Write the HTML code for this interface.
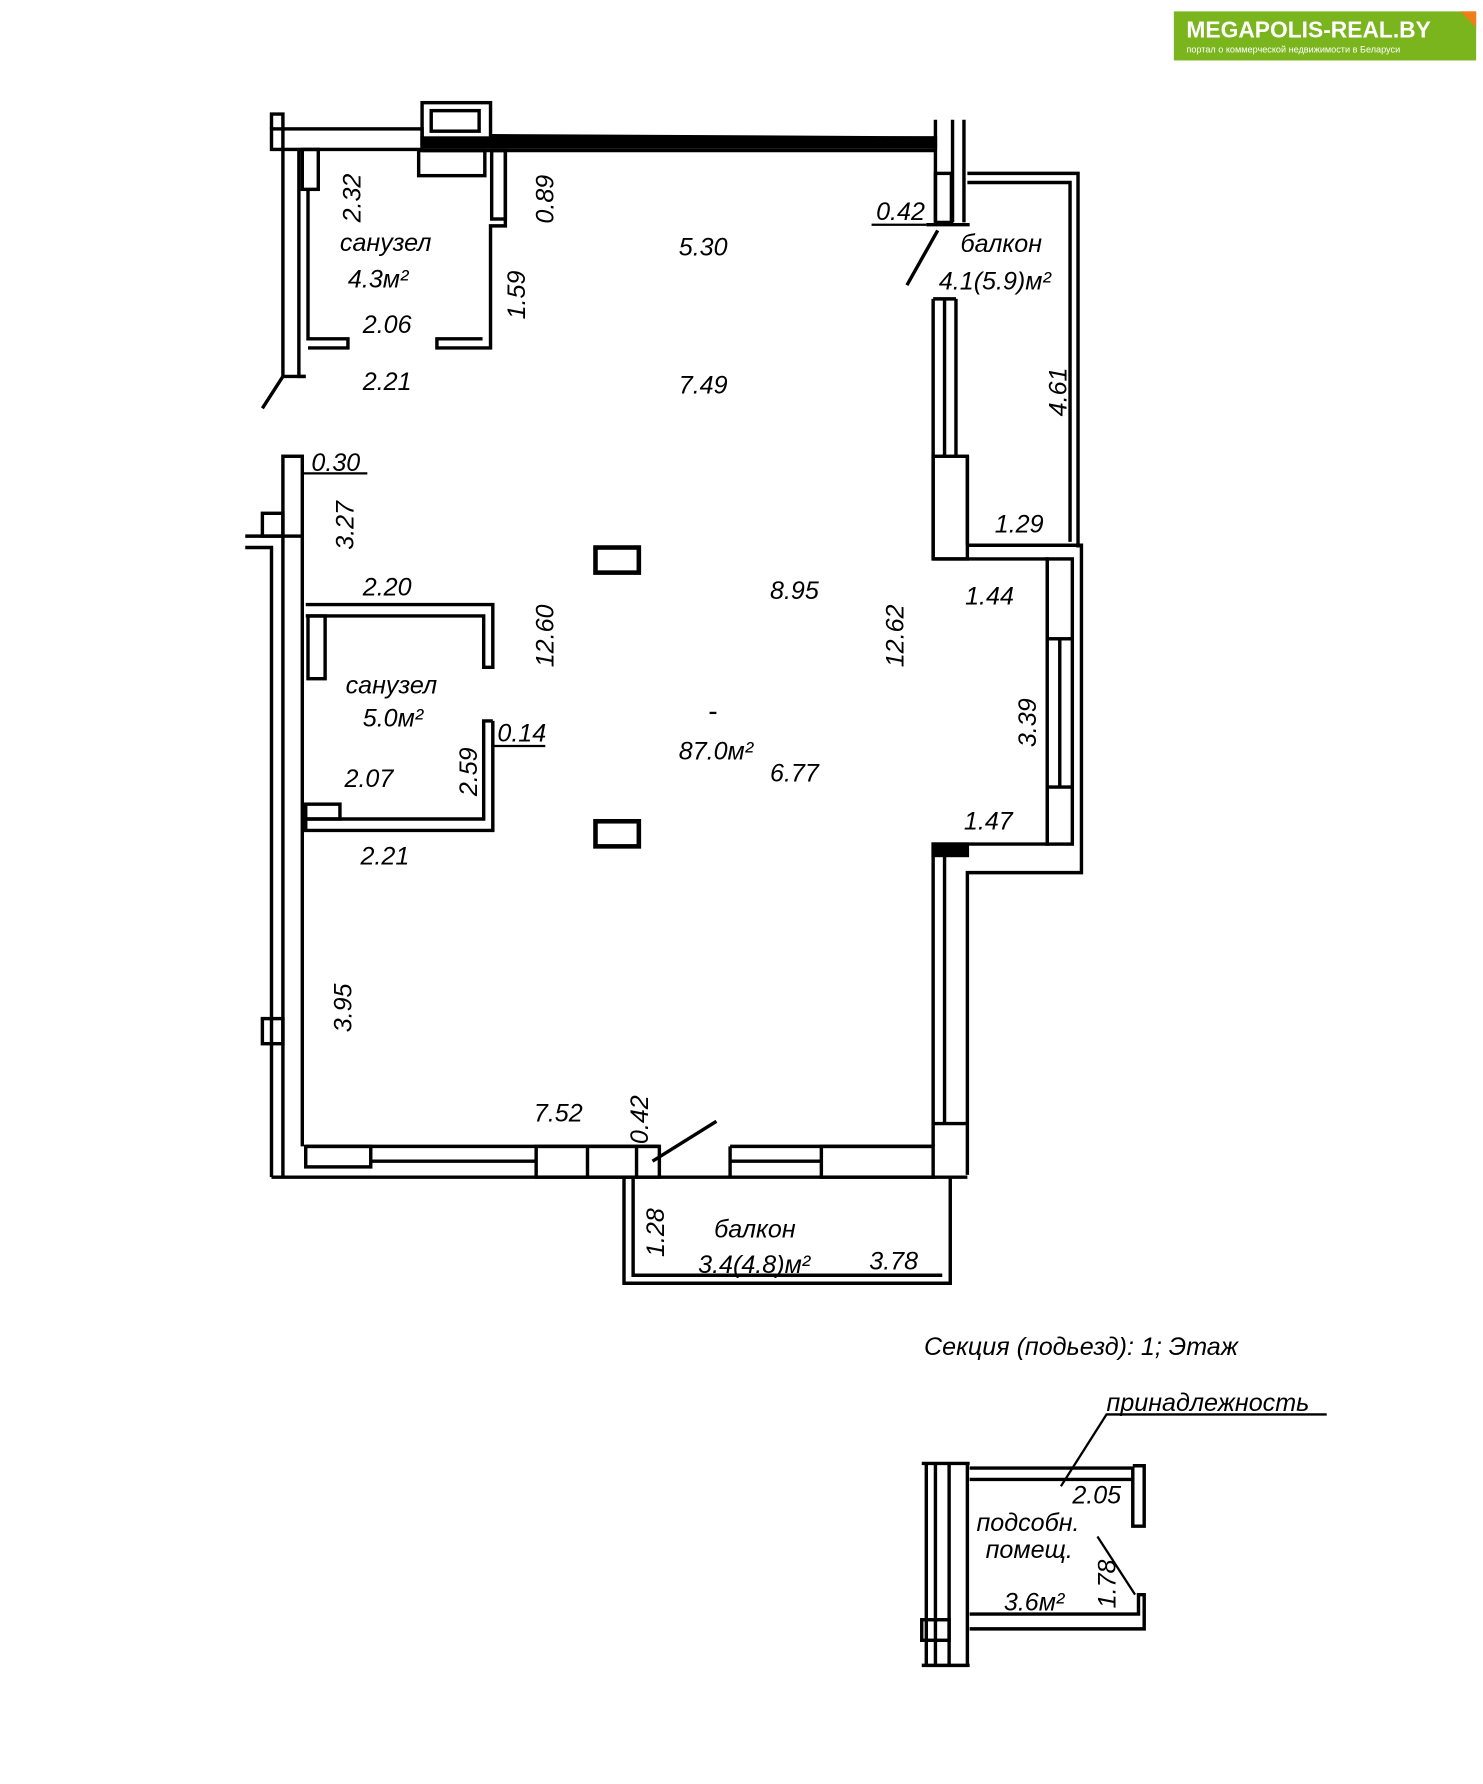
<!DOCTYPE html>
<html><head><meta charset="utf-8"><style>
html,body{margin:0;padding:0;background:#fff;}
svg{display:block;}
text{font-family:"Liberation Sans","DejaVu Sans",sans-serif;font-style:italic;fill:#000;}
</style></head><body>
<svg width="1483" height="1784" viewBox="0 0 1300 1564" preserveAspectRatio="none" xmlns="http://www.w3.org/2000/svg">
<rect x="0" y="0" width="1300" height="1564" fill="#fff"/>
<!-- logo -->
<rect x="1029" y="10" width="265" height="43" fill="#7ab51d"/>
<polygon points="1280,10 1294,10 1294,24" fill="#f07c1a"/>
<text x="1040" y="33" font-size="20" font-weight="bold" style="font-style:normal;fill:#fff">MEGAPOLIS-REAL.BY</text>
<text x="1040" y="46" font-size="8" style="font-style:normal;fill:#fff">портал о коммерческой недвижимости в Беларуси</text>

<g fill="none" stroke="#000" stroke-width="3">
<!-- top wall -->
<rect x="238" y="113" width="132" height="18"/>
<rect x="370" y="121" width="450" height="8" fill="#000"/>
<line x1="430" y1="119" x2="820" y2="121"/>
<line x1="370" y1="132" x2="820" y2="132"/>
<rect x="370" y="90" width="60" height="36"/>
<rect x="378" y="97" width="42" height="18"/>
<rect x="367" y="132" width="58" height="22"/>
<!-- right top pillar -->
<line x1="820" y1="105" x2="820" y2="195"/>
<line x1="835" y1="105" x2="835" y2="195"/>
<line x1="845" y1="105" x2="845" y2="195"/>
<rect x="820" y="152" width="14" height="43"/>
<line x1="812" y1="197" x2="850" y2="197"/>
<line x1="822" y1="202" x2="795" y2="250"/>
<!-- balcony top right -->
<polyline points="848,152 945,152 945,480"/>
<polyline points="848,160 938,160 938,475"/>
<!-- right wall windows -->
<line x1="818" y1="262" x2="818" y2="490"/>
<line x1="828" y1="262" x2="828" y2="400"/>
<line x1="838" y1="262" x2="838" y2="400"/>
<line x1="818" y1="262" x2="838" y2="262"/>
<rect x="818" y="400" width="30" height="90"/>
<line x1="848" y1="400" x2="848" y2="478"/>
<!-- step out -->
<polyline points="848,478 948,478 948,765 848,765 848,1030"/>
<polyline points="818,490 918,490 918,740 818,740 818,1005"/>
<rect x="918" y="490" width="22" height="70"/>
<rect x="918" y="690" width="22" height="50"/>
<line x1="929" y1="560" x2="929" y2="690"/>
<line x1="940" y1="560" x2="940" y2="690"/>
<rect x="818" y="740" width="30" height="10" fill="#000"/>
<line x1="828" y1="750" x2="828" y2="985"/>
<line x1="818" y1="985" x2="848" y2="985"/>
<!-- bottom wall -->
<line x1="238" y1="1032" x2="848" y2="1032"/>
<line x1="268" y1="1005" x2="578" y2="1005"/>
<line x1="640" y1="1005" x2="818" y2="1005"/>
<rect x="268" y="1005" width="57" height="18"/>
<rect x="470" y="1005" width="108" height="27"/>
<line x1="515" y1="1005" x2="515" y2="1032"/>
<line x1="558" y1="1005" x2="558" y2="1032"/>
<line x1="325" y1="1018" x2="470" y2="1018"/>
<line x1="640" y1="1018" x2="720" y2="1018"/>
<line x1="640" y1="1005" x2="640" y2="1032"/>
<rect x="720" y="1005" width="98" height="27"/>
<line x1="572" y1="1018" x2="628" y2="983"/>
<!-- bottom balcony -->
<polyline points="547,1032 547,1125 833,1125 833,1032"/>
<polyline points="555,1032 555,1118 826,1118"/>
<!-- left wall -->
<polyline points="238,113 238,100 248,100 248,330"/>
<polyline points="262,131 262,330 268,330"/>
<line x1="248" y1="330" x2="230" y2="358"/>
<line x1="248" y1="330" x2="268" y2="330"/>
<rect x="248" y="400" width="17" height="70"/>
<polyline points="215,470 248,470 248,1032"/>
<polyline points="215,480 238,480 238,1032"/>
<rect x="230" y="450" width="18" height="20"/>
<rect x="230" y="893" width="18" height="22"/>
<line x1="265" y1="470" x2="265" y2="1005"/>
<!-- sanuzel 1 -->
<rect x="265" y="131" width="14" height="35"/>
<polyline points="270,166 270,297 305,297 305,305 270,305"/>
<rect x="431" y="132" width="12" height="60"/>
<polyline points="443,132 443,198 430,198 430,305 383,305 383,297 423,297"/>
<!-- sanuzel 2 -->
<polyline points="268,530 432,530 432,585 424,585 424,540 268,540"/>
<rect x="270" y="540" width="15" height="55"/>
<polyline points="432,632 432,728 268,728 268,718 424,718 424,632 432,632"/>
<rect x="268" y="705" width="30" height="13"/>
<!-- columns -->
<rect x="522" y="480" width="38" height="22" stroke-width="4"/>
<rect x="522" y="720" width="38" height="22" stroke-width="4"/>
<!-- leader lines -->
<line x1="764" y1="197" x2="812" y2="197" stroke-width="2"/>
<line x1="265" y1="415" x2="322" y2="415" stroke-width="2"/>
<line x1="432" y1="654" x2="478" y2="654" stroke-width="2"/>
<line x1="622" y1="625" x2="628" y2="625" stroke-width="2"/>
<!-- small plan -->
<line x1="812" y1="1283" x2="812" y2="1460"/>
<line x1="820" y1="1283" x2="820" y2="1460"/>
<line x1="832" y1="1283" x2="832" y2="1460"/>
<line x1="848" y1="1283" x2="848" y2="1460"/>
<line x1="808" y1="1283" x2="850" y2="1283"/>
<line x1="808" y1="1460" x2="850" y2="1460"/>
<rect x="808" y="1420" width="24" height="18"/>
<polyline points="850,1287 993,1287 993,1338 1003,1338 1003,1285 993,1285"/>
<line x1="850" y1="1297" x2="993" y2="1297"/>
<polyline points="850,1415 998,1415 998,1398 1003,1398 1003,1428 850,1428"/>
<line x1="962" y1="1347" x2="995" y2="1398" stroke-width="2"/>
<polyline points="930,1303 970,1240 1163,1240" stroke-width="2"/>
</g>

<g font-size="22">
<text x="298" y="220">санузел</text>
<text x="305" y="252">4.3м²</text>
<text x="318" y="292">2.06</text>
<text x="318" y="342">2.21</text>
<text x="595" y="224">5.30</text>
<text x="595" y="345">7.49</text>
<text x="768" y="193">0.42</text>
<text x="842" y="221">балкон</text>
<text x="823" y="254">4.1(5.9)м²</text>
<text x="872" y="467">1.29</text>
<text x="846" y="530">1.44</text>
<text x="675" y="525">8.95</text>
<text x="273" y="413">0.30</text>
<text x="318" y="522">2.20</text>
<text x="303" y="608">санузел</text>
<text x="318" y="637">5.0м²</text>
<text x="436" y="650">0.14</text>
<text x="302" y="690">2.07</text>
<text x="316" y="758">2.21</text>
<text x="595" y="666">87.0м²</text>
<text x="675" y="685">6.77</text>
<text x="845" y="727">1.47</text>
<text x="468" y="983">7.52</text>
<text x="626" y="1085">балкон</text>
<text x="612" y="1116">3.4(4.8)м²</text>
<text x="762" y="1113">3.78</text>
<text x="810" y="1188">Секция (подьезд):  1;  Этаж</text>
<text x="970" y="1237">принадлежность</text>
<text x="940" y="1318">2.05</text>
<text x="856" y="1342">подсобн.</text>
<text x="864" y="1366">помещ.</text>
<text x="880" y="1412">3.6м²</text>
</g>
<g font-size="22">
<text transform="translate(316,195) rotate(-90)">2.32</text>
<text transform="translate(485,196) rotate(-90)">0.89</text>
<text transform="translate(460,280) rotate(-90)">1.59</text>
<text transform="translate(935,365) rotate(-90)">4.61</text>
<text transform="translate(310,482) rotate(-90)">3.27</text>
<text transform="translate(485,585) rotate(-90)">12.60</text>
<text transform="translate(792,585) rotate(-90)">12.62</text>
<text transform="translate(908,655) rotate(-90)">3.39</text>
<text transform="translate(418,698) rotate(-90)">2.59</text>
<text transform="translate(308,905) rotate(-90)">3.95</text>
<text transform="translate(568,1003) rotate(-90)">0.42</text>
<text transform="translate(582,1102) rotate(-90)">1.28</text>
<text transform="translate(978,1410) rotate(-90)">1.78</text>
</g>
</svg>
</body></html>
